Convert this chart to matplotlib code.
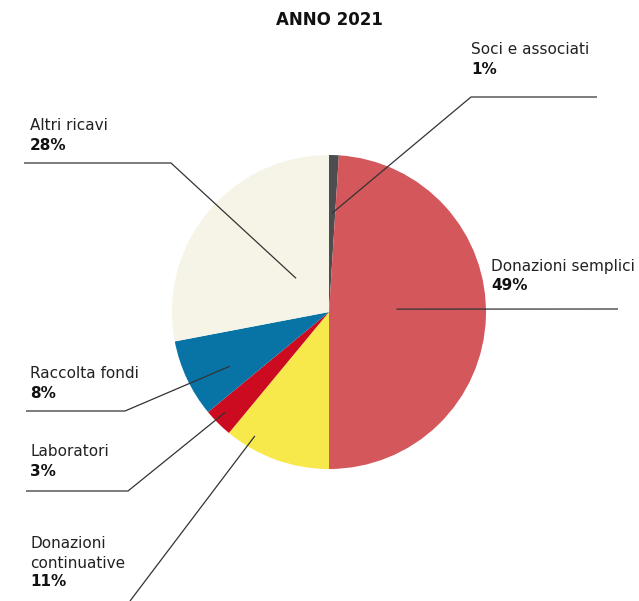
import numpy as np
import matplotlib
matplotlib.use("Agg")
import matplotlib.pyplot as plt

# Revenue shares for 2021, clockwise from 12 o'clock
categories = ["Soci e associati", "Donazioni semplici", "Donazioni\ncontinuative",
              "Laboratori", "Raccolta fondi", "Altri ricavi"]
shares = [1, 49, 11, 3, 8, 28]
colors = ["#4b4d50", "#d4575b", "#f7e84b", "#cc0a20", "#0874a6", "#f6f4e6"]
title = "ANNO 2021"

plt.rcParams["font.family"] = ["DejaVu Sans"]

W, H = 639, 601
fig = plt.figure(figsize=(W / 100, H / 100), dpi=100)
ax = fig.add_axes([0, 0, 1, 1])

cx, cy, R = 329, H - 312, 157
wedges, _ = ax.pie(shares, colors=colors, startangle=90, counterclock=False,
                   center=(cx, cy), radius=R, wedgeprops=dict(linewidth=0))
ax.set_xlim(0, W)
ax.set_ylim(0, H)
ax.set_aspect("equal")
ax.axis("off")

# leader layout: (fraction along wedge, radial fraction, elbow point, end point, text anchor)
layout = [
    (0.5, 0.63, (471, 97), (597, 97), (471, 50)),
    (0.476, 0.43, None, (618, 309), (491, 266)),
    (0.78, 0.92, None, (130, 601), (30, 544)),
    (0.59, 0.92, (128, 491), (26, 491), (30, 452)),
    (0.38, 0.72, (125, 411), (26, 411), (30, 374)),
    (0.56, 0.30, (171, 163), (24, 163), (30, 126)),
]

fs = 11
step = 19
for w, name, val, (f, rf, elbow, end, tpos) in zip(wedges, categories, shares, layout):
    t1, t2 = w.theta1, w.theta2
    ang = np.deg2rad(t2 - f * (t2 - t1))
    ax0 = cx + rf * R * np.cos(ang)
    ay0 = cy + rf * R * np.sin(ang)
    xs, ys = [ax0], [ay0]
    if elbow is not None:
        xs.append(elbow[0]); ys.append(H - elbow[1])
    xs.append(end[0]); ys.append(H - end[1])
    ax.plot(xs, ys, color="#333333", lw=0.9, solid_capstyle="butt")

    tx, ty = tpos
    lines = name.split("\n")
    for i, ln in enumerate(lines):
        ax.text(tx, H - (ty + step * i), ln, fontsize=fs, color="#222222",
                va="center", ha="left")
    ax.text(tx, H - (ty + step * len(lines)), f"{val}%", fontsize=fs, color="#111111",
            fontweight="bold", va="center", ha="left")

ax.text(cx, H - 20, title, fontsize=12, fontweight="bold", color="#111111",
        ha="center", va="center")

fig.savefig("out.png", dpi=100)
